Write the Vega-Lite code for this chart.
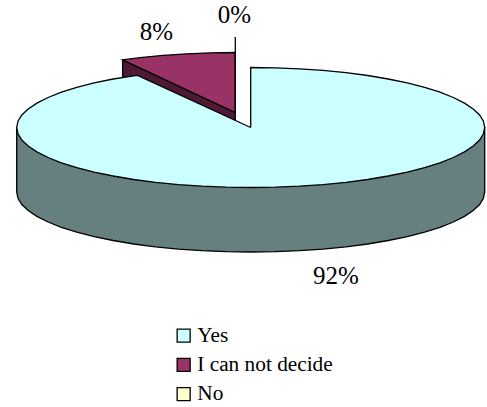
{
  "$schema": "https://vega.github.io/schema/vega-lite/v6.json",
  "width": 487,
  "height": 407,
  "autosize": {"type": "none"},
  "padding": 0,
  "background": "white",
  "config": {"view": {"stroke": null}},
  "datasets": {
    "faces": [
      {"face":"I can not decide side","seq":1,"x":122.6,"y":59.9},
      {"face":"I can not decide side","seq":2,"x":235.3,"y":112.5},
      {"face":"I can not decide side","seq":3,"x":235.3,"y":177},
      {"face":"I can not decide side","seq":4,"x":122.6,"y":124.4},
      {"face":"I can not decide side","seq":5,"x":122.6,"y":59.9},

      {"face":"I can not decide","seq":1,"x":235.3,"y":112.5},
      {"face":"I can not decide","seq":2,"x":122.6,"y":59.9},
      {"face":"I can not decide","seq":3,"x":140.1,"y":57.7},
      {"face":"I can not decide","seq":4,"x":163,"y":55.4},
      {"face":"I can not decide","seq":5,"x":186.6,"y":53.8},
      {"face":"I can not decide","seq":6,"x":210.8,"y":52.8},
      {"face":"I can not decide","seq":7,"x":235.3,"y":52.5},
      {"face":"I can not decide","seq":8,"x":235.3,"y":112.5},

      {"face":"No","seq":1,"x":235.3,"y":112.5},
      {"face":"No","seq":2,"x":235.3,"y":37},

      {"face":"Yes side","seq":1,"x":16.7,"y":127.5},
      {"face":"Yes side","seq":2,"x":16.7,"y":192},
      {"face":"Yes side","seq":3,"x":18,"y":198.3},
      {"face":"Yes side","seq":4,"x":21.8,"y":204.5},
      {"face":"Yes side","seq":5,"x":28.2,"y":210.5},
      {"face":"Yes side","seq":6,"x":36.9,"y":216.4},
      {"face":"Yes side","seq":7,"x":48.1,"y":222},
      {"face":"Yes side","seq":8,"x":61.4,"y":227.3},
      {"face":"Yes side","seq":9,"x":76.8,"y":232.1},
      {"face":"Yes side","seq":10,"x":94.1,"y":236.6},
      {"face":"Yes side","seq":11,"x":113.2,"y":240.5},
      {"face":"Yes side","seq":12,"x":133.7,"y":244},
      {"face":"Yes side","seq":13,"x":155.5,"y":246.8},
      {"face":"Yes side","seq":14,"x":178.4,"y":249.1},
      {"face":"Yes side","seq":15,"x":202,"y":250.7},
      {"face":"Yes side","seq":16,"x":226.2,"y":251.7},
      {"face":"Yes side","seq":17,"x":250.7,"y":252},
      {"face":"Yes side","seq":18,"x":275.2,"y":251.7},
      {"face":"Yes side","seq":19,"x":299.4,"y":250.7},
      {"face":"Yes side","seq":20,"x":323,"y":249.1},
      {"face":"Yes side","seq":21,"x":345.9,"y":246.8},
      {"face":"Yes side","seq":22,"x":367.7,"y":244},
      {"face":"Yes side","seq":23,"x":388.2,"y":240.5},
      {"face":"Yes side","seq":24,"x":407.3,"y":236.6},
      {"face":"Yes side","seq":25,"x":424.6,"y":232.1},
      {"face":"Yes side","seq":26,"x":440,"y":227.3},
      {"face":"Yes side","seq":27,"x":453.3,"y":222},
      {"face":"Yes side","seq":28,"x":464.5,"y":216.4},
      {"face":"Yes side","seq":29,"x":473.2,"y":210.5},
      {"face":"Yes side","seq":30,"x":479.6,"y":204.5},
      {"face":"Yes side","seq":31,"x":483.4,"y":198.3},
      {"face":"Yes side","seq":32,"x":484.7,"y":192},
      {"face":"Yes side","seq":33,"x":484.7,"y":127.5},
      {"face":"Yes side","seq":34,"x":16.7,"y":127.5},

      {"face":"Yes","seq":1,"x":250.7,"y":127.5},
      {"face":"Yes","seq":2,"x":250.7,"y":67.5},
      {"face":"Yes","seq":3,"x":275.2,"y":67.8},
      {"face":"Yes","seq":4,"x":299.4,"y":68.8},
      {"face":"Yes","seq":5,"x":323,"y":70.4},
      {"face":"Yes","seq":6,"x":345.9,"y":72.7},
      {"face":"Yes","seq":7,"x":367.7,"y":75.5},
      {"face":"Yes","seq":8,"x":388.2,"y":79},
      {"face":"Yes","seq":9,"x":407.3,"y":82.9},
      {"face":"Yes","seq":10,"x":424.6,"y":87.4},
      {"face":"Yes","seq":11,"x":440,"y":92.2},
      {"face":"Yes","seq":12,"x":453.3,"y":97.5},
      {"face":"Yes","seq":13,"x":464.5,"y":103.1},
      {"face":"Yes","seq":14,"x":473.2,"y":109},
      {"face":"Yes","seq":15,"x":479.6,"y":115},
      {"face":"Yes","seq":16,"x":483.4,"y":121.2},
      {"face":"Yes","seq":17,"x":484.7,"y":127.5},
      {"face":"Yes","seq":18,"x":483.4,"y":133.8},
      {"face":"Yes","seq":19,"x":479.6,"y":140},
      {"face":"Yes","seq":20,"x":473.2,"y":146},
      {"face":"Yes","seq":21,"x":464.5,"y":151.9},
      {"face":"Yes","seq":22,"x":453.3,"y":157.5},
      {"face":"Yes","seq":23,"x":440,"y":162.8},
      {"face":"Yes","seq":24,"x":424.6,"y":167.6},
      {"face":"Yes","seq":25,"x":407.3,"y":172.1},
      {"face":"Yes","seq":26,"x":388.2,"y":176},
      {"face":"Yes","seq":27,"x":367.7,"y":179.5},
      {"face":"Yes","seq":28,"x":345.9,"y":182.3},
      {"face":"Yes","seq":29,"x":323,"y":184.6},
      {"face":"Yes","seq":30,"x":299.4,"y":186.2},
      {"face":"Yes","seq":31,"x":275.2,"y":187.2},
      {"face":"Yes","seq":32,"x":250.7,"y":187.5},
      {"face":"Yes","seq":33,"x":226.2,"y":187.2},
      {"face":"Yes","seq":34,"x":202,"y":186.2},
      {"face":"Yes","seq":35,"x":178.4,"y":184.6},
      {"face":"Yes","seq":36,"x":155.5,"y":182.3},
      {"face":"Yes","seq":37,"x":133.7,"y":179.5},
      {"face":"Yes","seq":38,"x":113.2,"y":176},
      {"face":"Yes","seq":39,"x":94.1,"y":172.1},
      {"face":"Yes","seq":40,"x":76.8,"y":167.6},
      {"face":"Yes","seq":41,"x":61.4,"y":162.8},
      {"face":"Yes","seq":42,"x":48.1,"y":157.5},
      {"face":"Yes","seq":43,"x":36.9,"y":151.9},
      {"face":"Yes","seq":44,"x":28.2,"y":146},
      {"face":"Yes","seq":45,"x":21.8,"y":140},
      {"face":"Yes","seq":46,"x":18,"y":133.8},
      {"face":"Yes","seq":47,"x":16.7,"y":127.5},
      {"face":"Yes","seq":48,"x":18,"y":121.2},
      {"face":"Yes","seq":49,"x":21.8,"y":115},
      {"face":"Yes","seq":50,"x":28.2,"y":109},
      {"face":"Yes","seq":51,"x":36.9,"y":103.1},
      {"face":"Yes","seq":52,"x":48.1,"y":97.5},
      {"face":"Yes","seq":53,"x":61.4,"y":92.2},
      {"face":"Yes","seq":54,"x":76.8,"y":87.4},
      {"face":"Yes","seq":55,"x":94.1,"y":82.9},
      {"face":"Yes","seq":56,"x":113.2,"y":79},
      {"face":"Yes","seq":57,"x":133.7,"y":75.8},
      {"face":"Yes","seq":58,"x":137.5,"y":75.4},
      {"face":"Yes","seq":59,"x":250.7,"y":127.5}
    ],
    "answers": [
      {"answer":"Yes","share":0.92,"x":336,"y":276},
      {"answer":"I can not decide","share":0.08,"x":156.5,"y":32},
      {"answer":"No","share":0,"x":234.5,"y":15}
    ]
  },
  "layer": [
    {
      "data": {"name": "faces"},
      "mark": {"type": "line", "stroke": "black", "strokeWidth": 1.3, "strokeJoin": "miter"},
      "encoding": {
        "x": {"field": "x", "type": "quantitative", "scale": {"domain": [0, 487], "nice": false, "zero": false}, "axis": null},
        "y": {"field": "y", "type": "quantitative", "scale": {"domain": [407, 0], "nice": false, "zero": false}, "axis": null},
        "order": {"field": "seq", "type": "quantitative"},
        "fill": {
          "field": "face",
          "type": "nominal",
          "scale": {
            "domain": ["Yes", "I can not decide", "No", "Yes side", "I can not decide side"],
            "range": ["#CCFFFF", "#993366", "#FFFFCC", "#667F7F", "#4D1933"]
          },
          "legend": {
            "values": ["Yes", "I can not decide", "No"],
            "title": null,
            "orient": "none",
            "legendX": 173,
            "legendY": 325,
            "padding": 0,
            "symbolType": "square",
            "symbolSize": 169,
            "symbolStrokeColor": "black",
            "symbolStrokeWidth": 1.3,
            "symbolOpacity": 1,
            "labelFont": "Liberation Serif",
            "labelFontSize": 21.3,
            "labelColor": "black",
            "labelOffset": 3,
            "labelLimit": 300,
            "rowPadding": 7.2
          }
        }
      }
    },
    {
      "data": {"name": "answers"},
      "mark": {"type": "text", "font": "Liberation Serif", "fontSize": 25, "color": "black", "baseline": "middle", "align": "center"},
      "encoding": {
        "x": {"field": "x", "type": "quantitative"},
        "y": {"field": "y", "type": "quantitative"},
        "text": {"field": "share", "type": "quantitative", "format": ".0%"}
      }
    }
  ]
}
